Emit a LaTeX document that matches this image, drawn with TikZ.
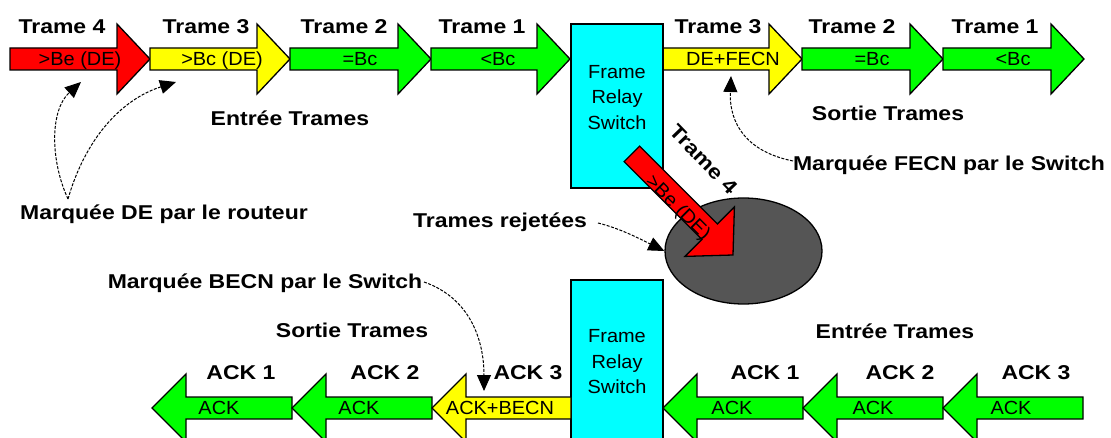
\documentclass[tikz,border=0pt]{standalone}
\usepackage{fontspec}
\setmainfont{Liberation Sans}
\newfontfamily\lblfont[FakeStretch=1.15]{Liberation Sans}
\newfontfamily\arrfont[FakeStretch=1.05]{Liberation Sans}
\usetikzlibrary{arrows.meta,shapes.geometric}
\definecolor{frred}{HTML}{FF0000}
\definecolor{fryel}{HTML}{FFFF00}
\definecolor{frgrn}{HTML}{00FF00}
\definecolor{frcyan}{HTML}{00FFFF}
\definecolor{frgray}{HTML}{555555}
% right-pointing frame arrow: tail x, tip x, centre y, colour
\newcommand\RArr[4]{\draw[frshape,fill=#4] (#1,#3-11) -- (#2-33,#3-11) -- (#2-33,#3-35) -- (#2,#3) -- (#2-33,#3+35) -- (#2-33,#3+11) -- (#1,#3+11) -- cycle;}
% left-pointing frame arrow: tip x, tail x, centre y, colour
\newcommand\LArr[4]{\draw[frshape,fill=#4] (#2,#3-11) -- (#1+34,#3-11) -- (#1+34,#3-34) -- (#1,#3) -- (#1+34,#3+34) -- (#1+34,#3+11) -- (#2,#3+11) -- cycle;}
\tikzset{
  frshape/.style={draw=black, line width=1.3pt, line join=miter},
  lbl/.style={font=\lblfont\bfseries\fontsize{20}{24}\selectfont, inner sep=0pt, text height=14.3pt, text depth=0pt},
  intxt/.style={font=\arrfont\fontsize{19}{23}\selectfont, inner sep=0pt, text height=13.6pt, text depth=0pt},
  swtxt/.style={font=\arrfont\fontsize{19}{25.5}\selectfont, inner sep=0pt, align=center},
  swbox/.style={draw=black, line width=1.3pt, fill=frcyan, inner sep=0pt},
  conn/.style={line width=1pt, dash pattern=on 3pt off 1.5pt, -{Triangle[length=16pt,width=14pt]}},
}
\begin{document}
\begin{tikzpicture}[x=1pt,y=-1pt]
\useasboundingbox (0,0) rectangle (1111,438);
\fill[white] (0,0) rectangle (1111,438);
\clip (0,0) rectangle (1111,438);

% ---------- upper row ----------
\RArr{10}{150}{59}{frred}
\RArr{150}{290}{59}{fryel}
\RArr{290}{431}{59}{frgrn}
\RArr{431}{570}{59}{frgrn}
\RArr{663}{802}{59}{fryel}
\RArr{802}{943}{59}{frgrn}
\RArr{943}{1084}{59}{frgrn}

\node[intxt] (t4) at (80,59) {>Be (DE)};
\node[intxt] (t3) at (222,59) {>Bc (DE)};
\node[intxt] (t2) at (360,59) {=Bc};
\node[intxt] (t1) at (498,59) {<Bc};
\node[intxt] (o3) at (733,59) {DE+FECN};
\node[intxt] (o2) at (872,59) {=Bc};
\node[intxt] (o1) at (1013,59) {<Bc};

\node[lbl] (l4) at (62,26) {Trame 4};
\node[lbl] (l3) at (206,26) {Trame 3};
\node[lbl] (l2) at (344,26) {Trame 2};
\node[lbl] (l1) at (482,26) {Trame 1};
\node[lbl] (r3) at (718,26) {Trame 3};
\node[lbl] (r2) at (852,26) {Trame 2};
\node[lbl] (r1) at (995,26) {Trame 1};

\node[lbl] (inTop) at (290,118) {Entrée Trames};
\node[lbl] (outTop) at (888,113) {Sortie Trames};

% ---------- rejected frames ----------
\node[ellipse, draw=black, line width=1.3pt, fill=frgray, minimum width=157pt, minimum height=106pt, inner sep=0pt] (rej) at (743.5,251) {};
\node[swbox, minimum width=92pt, minimum height=164pt] (sw1) at (617,106) {};
\node[swtxt] (sw1t) at (617,97.5) {Frame\\Relay\\Switch};
\begin{scope}[shift={(733,255)}, rotate=-45]
  \RArr{-143}{0}{0}{frred}
\end{scope}
\node[intxt, rotate=-45] (d4) at (679,207) {>Be (DE)};
\node[lbl, rotate=-46] (dl4) at (704,159) {Trame 4};

% ---------- annotations ----------
\node[lbl] (deLbl) at (164,212) {Marquée DE par le routeur};
\coordinate (deS) at (68,199);
\coordinate (deA) at (81,82);
\coordinate (deB) at (176,82);
\draw[conn] (deS) .. controls (50,160) and (50,110) .. (deA);
\draw[conn] (deS) .. controls (85,140) and (120,100) .. (deB);

\node[lbl] (fecnLbl) at (949,163) {Marquée FECN par le Switch};
\coordinate (fecnS) at (793,161);
\coordinate (fecnE) at (731,76);
\draw[conn] (fecnS) .. controls (748,152) and (729,125) .. (fecnE);

\node[lbl] (rejLbl) at (500,220) {Trames rejetées};
\coordinate (rejS) at (598,223);
\draw[conn] (rejS) .. controls (622,229) and (642,240) .. (rej.west);

\node[lbl] (becnLbl) at (265,281) {Marquée BECN par le Switch};
\coordinate (becnS) at (424,282);
\coordinate (becnE) at (484,391);
\draw[conn] (becnS) .. controls (470,298) and (484,340) .. (becnE);

% ---------- lower row ----------
\node[swbox, minimum width=92pt, minimum height=170pt] (sw2) at (617,365) {};
\node[swtxt] (sw2t) at (617,362) {Frame\\Relay\\Switch};

\LArr{152}{292}{408}{frgrn}
\LArr{292}{432}{408}{frgrn}
\LArr{432}{571}{408}{fryel}
\LArr{663}{803}{408}{frgrn}
\LArr{803}{943}{408}{frgrn}
\LArr{943}{1083}{408}{frgrn}

\node[intxt] (a1) at (219,408) {ACK};
\node[intxt] (a2) at (359,408) {ACK};
\node[intxt] (a3) at (500,408) {ACK+BECN};
\node[intxt] (b1) at (732,408) {ACK};
\node[intxt] (b2) at (873,408) {ACK};
\node[intxt] (b3) at (1011,408) {ACK};

\node[lbl] (al1) at (241,372) {ACK 1};
\node[lbl] (al2) at (385,372) {ACK 2};
\node[lbl] (al3) at (528,372) {ACK 3};
\node[lbl] (bl1) at (765,372) {ACK 1};
\node[lbl] (bl2) at (900,372) {ACK 2};
\node[lbl] (bl3) at (1036,372) {ACK 3};

\node[lbl] (outBot) at (352,330) {Sortie Trames};
\node[lbl] (inBot) at (895,331) {Entrée Trames};
\end{tikzpicture}
\end{document}
